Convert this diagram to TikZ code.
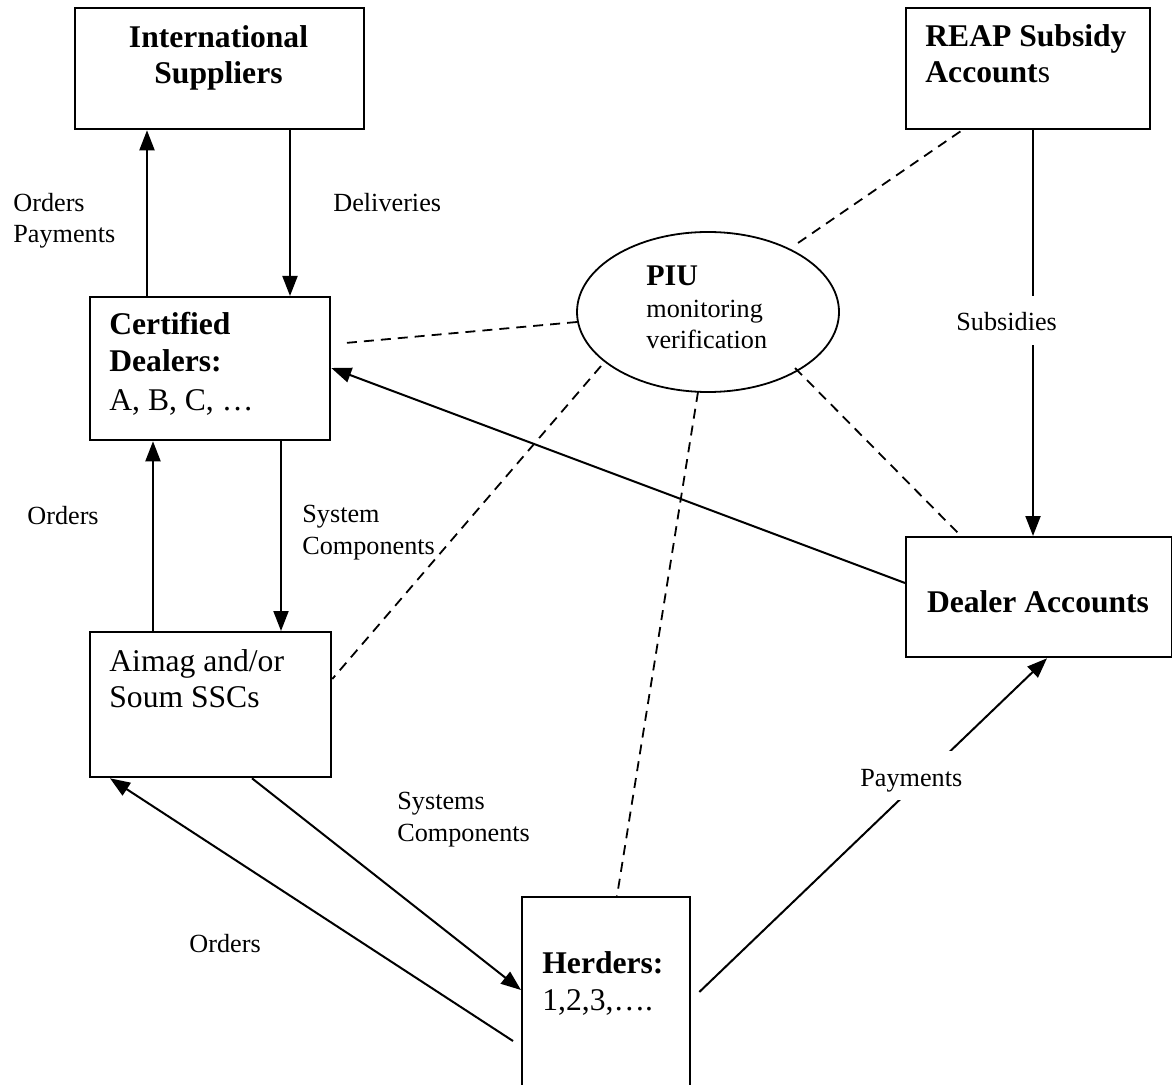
\documentclass[tikz,border=0pt]{standalone}
\usepackage{fontspec}
\setmainfont{Liberation Serif}
\usetikzlibrary{arrows.meta,shapes.geometric,calc}

\begin{document}
\begin{tikzpicture}[x=0.5pt,y=-0.5pt,
  box/.style={draw,line width=1.15pt,inner sep=0pt,anchor=north west},
  boxtxt/.style={inner sep=0pt,font=\fontsize{15.8}{18}\selectfont,align=left,anchor=base west},
  lbl/.style={inner sep=0pt,font=\fontsize{13.1}{15.6}\selectfont,align=left,anchor=base west},
  onwire/.style={lbl,fill=white,inner xsep=3pt,inner ysep=0pt,text height=17.5pt,text depth=7pt},
  flow/.style={line width=1pt,-{Triangle[length=10pt,width=7.5pt]}},
  monitor/.style={line width=0.9pt,dash pattern=on 5pt off 3.5pt}]

\fill[white] (0,0) rectangle (1172,1085);
\clip (0,0) rectangle (1172,1085);

% ---- boxes ----
\node[box,minimum width=144.5pt,minimum height=60.5pt] (intl) at (74,7) {};
\node[box,minimum width=122pt,minimum height=60.5pt] (reap) at (905,7) {};
\node[box,minimum width=120pt,minimum height=71.5pt] (cert) at (89,296) {};
\node[box,minimum width=120.5pt,minimum height=72.5pt] (aimag) at (89,631) {};
\node[box,minimum width=133pt,minimum height=60pt] (dealer) at (905,536) {};
\node[box,minimum width=84pt,minimum height=112pt] (herders) at (521,896) {};
\node[draw,ellipse,line width=0.9pt,inner sep=0pt,minimum width=131pt,minimum height=80pt] (piu) at (708,312) {};

% ---- box texts (anchored on the baseline of their last line) ----
\node[boxtxt,align=center,anchor=base] (intl-t) at (218.5,84) {\textbf{International}\\ \textbf{Suppliers}};
\node[boxtxt] (reap-t) at (925,83) {\textbf{REAP Subsidy}\\ \textbf{Account}s};
\node[boxtxt] (cert-t) at (109,410) {\textbf{Certified}\\ \textbf{Dealers:}\\[1.5pt] A, B, C, …};
\node[boxtxt] (aimag-t) at (109,707) {Aimag and/or\\ Soum SSCs};
\node[boxtxt,anchor=base] (dealer-t) at (1038,612) {\textbf{Dealer Accounts}};
\node[boxtxt] (herders-t) at (542,1010) {\textbf{Herders:}\\[0.5pt] 1,2,3,….};
\node[inner sep=0pt,anchor=base west] (piu-t) at (646,286) {\fontsize{15}{16}\selectfont\bfseries PIU};
\node[lbl] (piu-s) at (646,349) {monitoring\\ verification};

% ---- flows ----
\coordinate (c1) at ($(cert.north west)+(58,0)$);
\draw[flow] (c1) -- (c1 |- intl.south);
\coordinate (c2) at ($(intl.south west)+(216,0)$);
\draw[flow] (c2) -- (c2 |- cert.north);
\coordinate (c3) at ($(aimag.north west)+(64,0)$);
\draw[flow] (c3) -- (c3 |- cert.south);
\coordinate (c4) at ($(cert.south west)+(192,0)$);
\draw[flow] (c4) -- (c4 |- aimag.north);
\coordinate (c6) at ($(reap.south west)+(128,0)$);
\draw[flow] (c6) -- (c6 |- dealer.north);
\draw[flow] ($(dealer.north west)+(0,47)$) -- ($(cert.north east)+(0,72)$);
\draw[flow] ($(aimag.south west)+(163,0)$) -- ($(herders.north west)+(0,94)$);
\coordinate (h1) at ($(herders.north west)+(-8,145)$);
\draw[flow] (h1) -- ($(aimag.south west)+(21,0)$);
\coordinate (h2) at ($(herders.north east)+(8,96)$);
\draw[flow] (h2) -- ($(dealer.south west)+(142,0)$);

% ---- monitoring links ----
\draw[monitor] ($(piu.center)+(90,-69)$) -- ($(reap.south west)+(57,0)$);
\draw[monitor] ($(piu.center)+(-131,10)$) -- ($(cert.north east)+(14,47)$);
\draw[monitor] ($(piu.center)+(-107,54)$) -- ($(aimag.north east)+(0,48)$);
\draw[monitor] ($(piu.center)+(-10,80)$) -- ($(herders.north west)+(96,0)$);
\draw[monitor] ($(piu.center)+(87,56)$) -- ($(dealer.north west)+(53,-3)$);

% ---- labels ----
\node[lbl] (l-op) at (13,243) {Orders\\ Payments};
\node[lbl] (l-del) at (333,212) {Deliveries};
\node[onwire] (l-sub) at (950,331) {Subsidies};
\node[lbl] (l-ord1) at (27,524) {Orders};
\node[lbl] (l-sc) at (302,554) {System\\ Components};
\node[lbl] (l-ssc) at (397,841) {Systems\\ Components};
\node[onwire] (l-pay) at (854,786) {Payments};
\node[lbl] (l-ord2) at (189,952) {Orders};
\end{tikzpicture}
\end{document}
